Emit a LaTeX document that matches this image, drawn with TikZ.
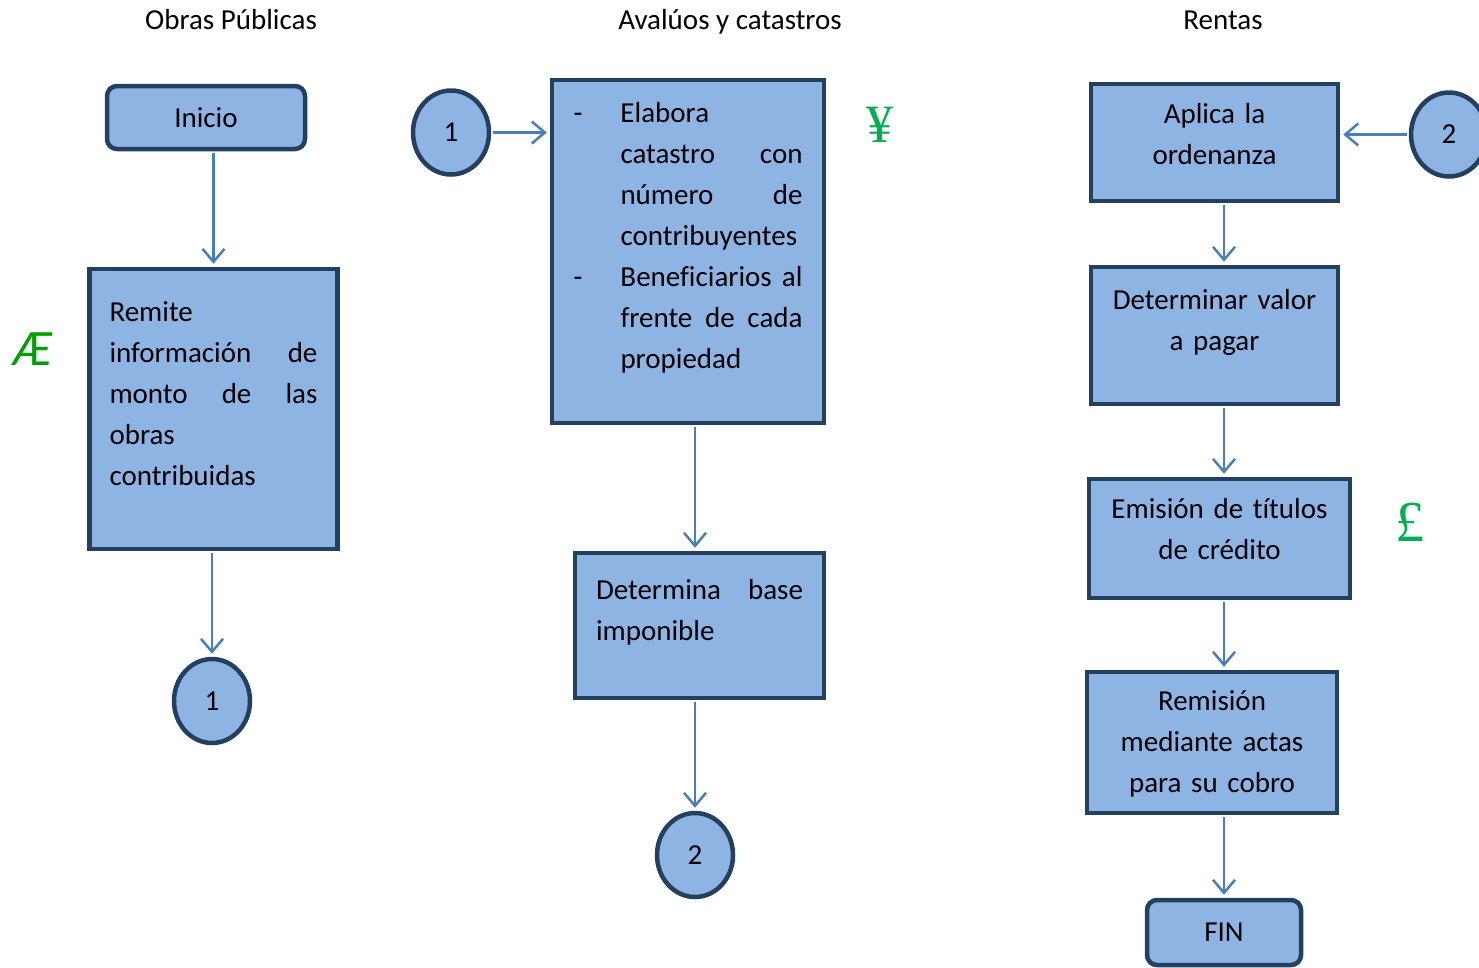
\documentclass[tikz,border=0pt]{standalone}
\usepackage{fontspec}
\setmainfont{Carlito}[Ligatures={NoCommon,NoRequired}, Contextuals=NoAlternate]
\newfontfamily\serifsym{Liberation Serif}
\usetikzlibrary{arrows.meta,positioning,shapes.geometric}

\definecolor{boxfill}{RGB}{141,180,227}
\definecolor{boxline}{RGB}{36,64,97}
\definecolor{arrowblue}{RGB}{74,126,187}
\definecolor{symgreen}{RGB}{0,176,80}
\definecolor{aegreen}{RGB}{0,160,0}

% list dash and hanging indent inside the boxes
\newcommand{\guion}{\makebox[47pt][l]{-}}
\newcommand{\sangria}{\hspace*{47pt}}
\hyphenpenalty=10000

\begin{document}
\begin{tikzpicture}[
        x=1pt, y=-1pt,
        font=\fontsize{29}{41}\selectfont,
        block/.style={rectangle, draw=boxline, fill=boxfill, line width=4.5pt, inner xsep=20pt, inner ysep=0pt, align=left},
        blockc/.style={block, align=center},
        terminal/.style={rectangle, draw=boxline, fill=boxfill, line width=4.5pt, rounded corners=10pt, inner sep=0pt},
        connector/.style={ellipse, draw=boxline, fill=boxfill, line width=4.5pt, minimum width=76pt, minimum height=84pt, inner sep=0pt},
        arrow/.style={-{Straight Barb[length=13pt,width=22pt]}, draw=arrowblue, line width=2.5pt, shorten >=3pt, shorten <=2pt},
        title/.style={anchor=base}
    ]
        \useasboundingbox (0,0) rectangle (1479,967);

        % column headings
        \node[title] (obras) at (231,29) {Obras Públicas};
        \node[title] (avaluos) at (730,29) {Avalúos y catastros};
        \node[title] (rentas) at (1223,29) {Rentas};

        % Obras Publicas
        \node[terminal, minimum width=198pt, minimum height=63pt] (inicio) at (206,117.5) {Inicio};
        \node[block, below of=inicio, node distance=291.5pt, xshift=7.5pt, text width=208pt, text height=52pt, text depth=228pt] (remite)
            {Remite\\ información\hfill de\\ monto\hfill de\hfill las\\ obras\\ contribuidas};
        \node[connector, below of=remite, node distance=292pt, xshift=-1.5pt] (conA) {1};
        \node[text=aegreen, font=\itshape\fontsize{51}{51}\selectfont] (ae) at (33,349) {Æ};

        \draw[arrow] (inicio.south -| remite.north) -- (remite.north);
        \draw[arrow] (remite.south -| conA.north) -- (conA.north);

        % Avaluos y catastros
        \node[connector] (conB1) at (451,132.5) {1};
        \node[block, inner xsep=21.5pt, text width=229pt, text height=42pt, text depth=301pt] (elabora) at (688,251.5)
            {\guion Elabora\\
             \sangria catastro\hfill con\\
             \sangria número\hfill de\\
             \sangria contribuyentes\\
             \guion Beneficiarios\hfill al\\
             \sangria frente\hfill de\hfill cada\\
             \sangria propiedad};
        \node[block, below of=elabora, node distance=374pt, xshift=11.5pt, inner xsep=21pt, text width=207pt, text height=46pt, text depth=99pt] (determina)
            {Determina\hfill base\\ imponible};
        \node[connector, below of=determina, node distance=229.5pt, xshift=-4.5pt] (conB2) {2};
        \node[text=symgreen, font=\serifsym\fontsize{54}{54}\selectfont] (yen) at (880,125) {¥};

        \draw[arrow] (conB1.east) -- (conB1.east -| elabora.west);
        \draw[arrow] (elabora.south -| conB2.north) -- (determina.north -| conB2.north);
        \draw[arrow] (determina.south -| conB2.north) -- (conB2.north);

        % Rentas
        \node[blockc, text width=207pt, text height=39pt, text depth=78pt] (aplica) at (1214.5,142.5) {Aplica la\\ ordenanza};
        \node[connector, right of=aplica, node distance=234.5pt, yshift=8pt] (conC) {2};
        \node[blockc, below of=aplica, node distance=193pt, text width=207pt, text height=42pt, text depth=95pt] (determinar)
            {Determinar valor\\ a pagar};
        \node[blockc, below of=determinar, node distance=203pt, xshift=5pt, text width=221pt, text height=39pt, text depth=80pt] (emision)
            {Emisión de títulos\\ de crédito};
        \node[blockc, below of=emision, node distance=204pt, xshift=-7.5pt, text width=210pt, text height=38pt, text depth=103pt] (remision)
            {Remisión\\ mediante actas\\ para su cobro};
        \node[terminal, below of=remision, node distance=190pt, xshift=12pt, minimum width=154pt, minimum height=65pt] (fin) {FIN};
        \node[text=symgreen, font=\serifsym\fontsize{58}{58}\selectfont] (libra) at (1410,522) {£};

        \draw[arrow] (conC.west) -- (conC.west -| aplica.east);
        \draw[arrow] (aplica.south -| fin.north) -- (determinar.north -| fin.north);
        \draw[arrow] (determinar.south -| fin.north) -- (emision.north -| fin.north);
        \draw[arrow] (emision.south -| fin.north) -- (remision.north -| fin.north);
        \draw[arrow] (remision.south -| fin.north) -- (fin.north);
\end{tikzpicture}
\end{document}
